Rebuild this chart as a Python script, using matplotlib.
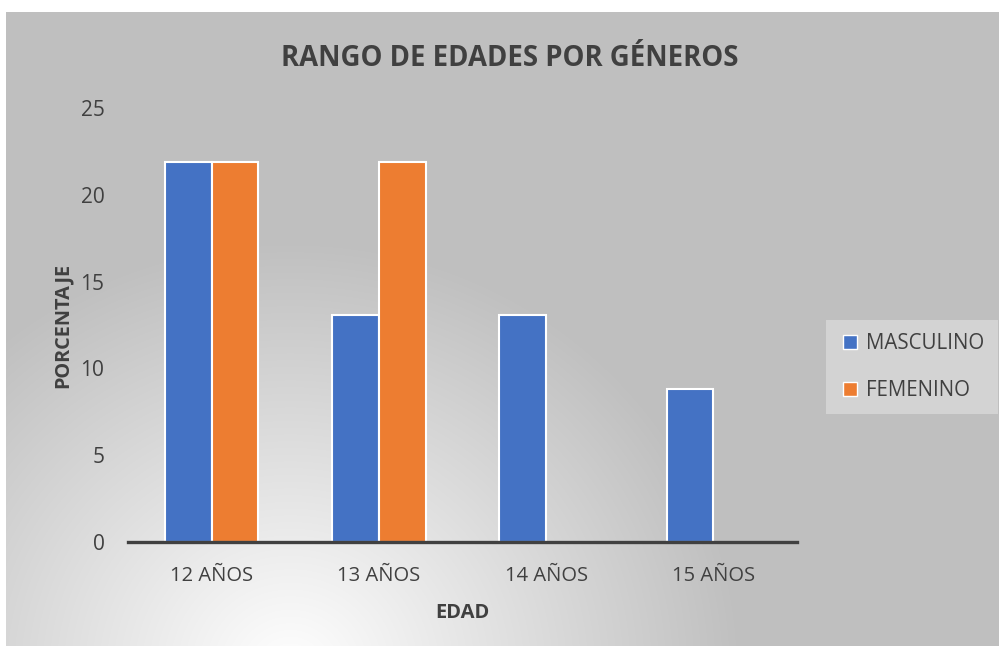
import numpy as np
import matplotlib.pyplot as plt
from matplotlib.lines import Line2D

# datos
edades = ['12 AÑOS', '13 AÑOS', '14 AÑOS', '15 AÑOS']
masculino = [21.9, 13.1, 13.1, 8.8]
femenino = [21.9, 21.9, 0, 0]

azul = '#4472C4'
naranja = '#ED7D31'
gris_texto = '#404040'

plt.rcParams['font.family'] = ['Open Sans', 'DejaVu Sans']

W, H = 999, 648
fig = plt.figure(figsize=(W / 100, H / 100), dpi=100)

# fondo con degradado radial (blanco abajo a la izquierda, gris en el resto)
yy, xx = np.mgrid[0:H, 0:W]
r = np.sqrt(((xx - 290) / 1.05) ** 2 + (yy - 670) ** 2)
t = np.clip(r / 430, 0, 1)
v = 1.0 - (1.0 - 0.75) * t
img = np.dstack([v, v, v])
img[:12, :, :] = 1.0
img[:, :6, :] = 1.0
img[646:, :, :] = 1.0
bg = fig.add_axes([0, 0, 1, 1])
bg.imshow(img, extent=(0, W, H, 0), aspect='auto', interpolation='bilinear')
bg.axis('off')

ax = fig.add_axes([128 / W, (H - 542) / H, (797 - 128) / W, (542 - 108) / H])
ax.patch.set_alpha(0)

x = np.arange(len(edades))
w = 0.28
ax.bar(x - w / 2, masculino, w, color=azul, edgecolor='white', linewidth=1.5)
ax.bar(x + w / 2, femenino, w, color=naranja, edgecolor='white', linewidth=1.5)

ax.set_xlim(-0.5, 3.5)
ax.set_ylim(0, 25)
ax.set_yticks([0, 5, 10, 15, 20, 25])
ax.set_xticks(x)
ax.set_xticklabels(edades)
for s in ['top', 'right', 'left']:
    ax.spines[s].set_visible(False)
ax.spines['bottom'].set_color(gris_texto)
ax.spines['bottom'].set_linewidth(2.4)
ax.tick_params(axis='y', length=0, pad=17, labelsize=15, labelcolor=gris_texto)
ax.tick_params(axis='x', length=0, pad=17, labelsize=14.5, labelcolor=gris_texto)

fig.text(510 / W, 1 - 59 / H, 'RANGO DE EDADES POR GÉNEROS', ha='center', va='center',
         fontsize=19.8, fontweight='bold', color=gris_texto)
fig.text(63 / W, 1 - 325 / H, 'PORCENTAJE', ha='center', va='center', rotation=90,
         fontsize=14.3, fontweight='bold', color=gris_texto)
fig.text(462 / W, 1 - 613 / H, 'EDAD', ha='center', va='center',
         fontsize=14.5, fontweight='bold', color=gris_texto)

handles = [Line2D([], [], marker='s', linestyle='none', markersize=10, markerfacecolor=azul,
                  markeredgecolor='white', markeredgewidth=1),
           Line2D([], [], marker='s', linestyle='none', markersize=10, markerfacecolor=naranja,
                  markeredgecolor='white', markeredgewidth=1)]
leg = fig.legend(handles, ['MASCULINO', 'FEMENINO'], loc='upper left',
                 bbox_to_anchor=(826 / W, 1 - 320 / H), fontsize=14.8,
                 frameon=True, fancybox=False, facecolor='#d3d3d3', edgecolor='none',
                 framealpha=1, labelspacing=1.25, handletextpad=0.3, handlelength=1.0,
                 borderpad=0.65, borderaxespad=0, labelcolor=gris_texto)

fig.savefig('out.png', dpi=100)
